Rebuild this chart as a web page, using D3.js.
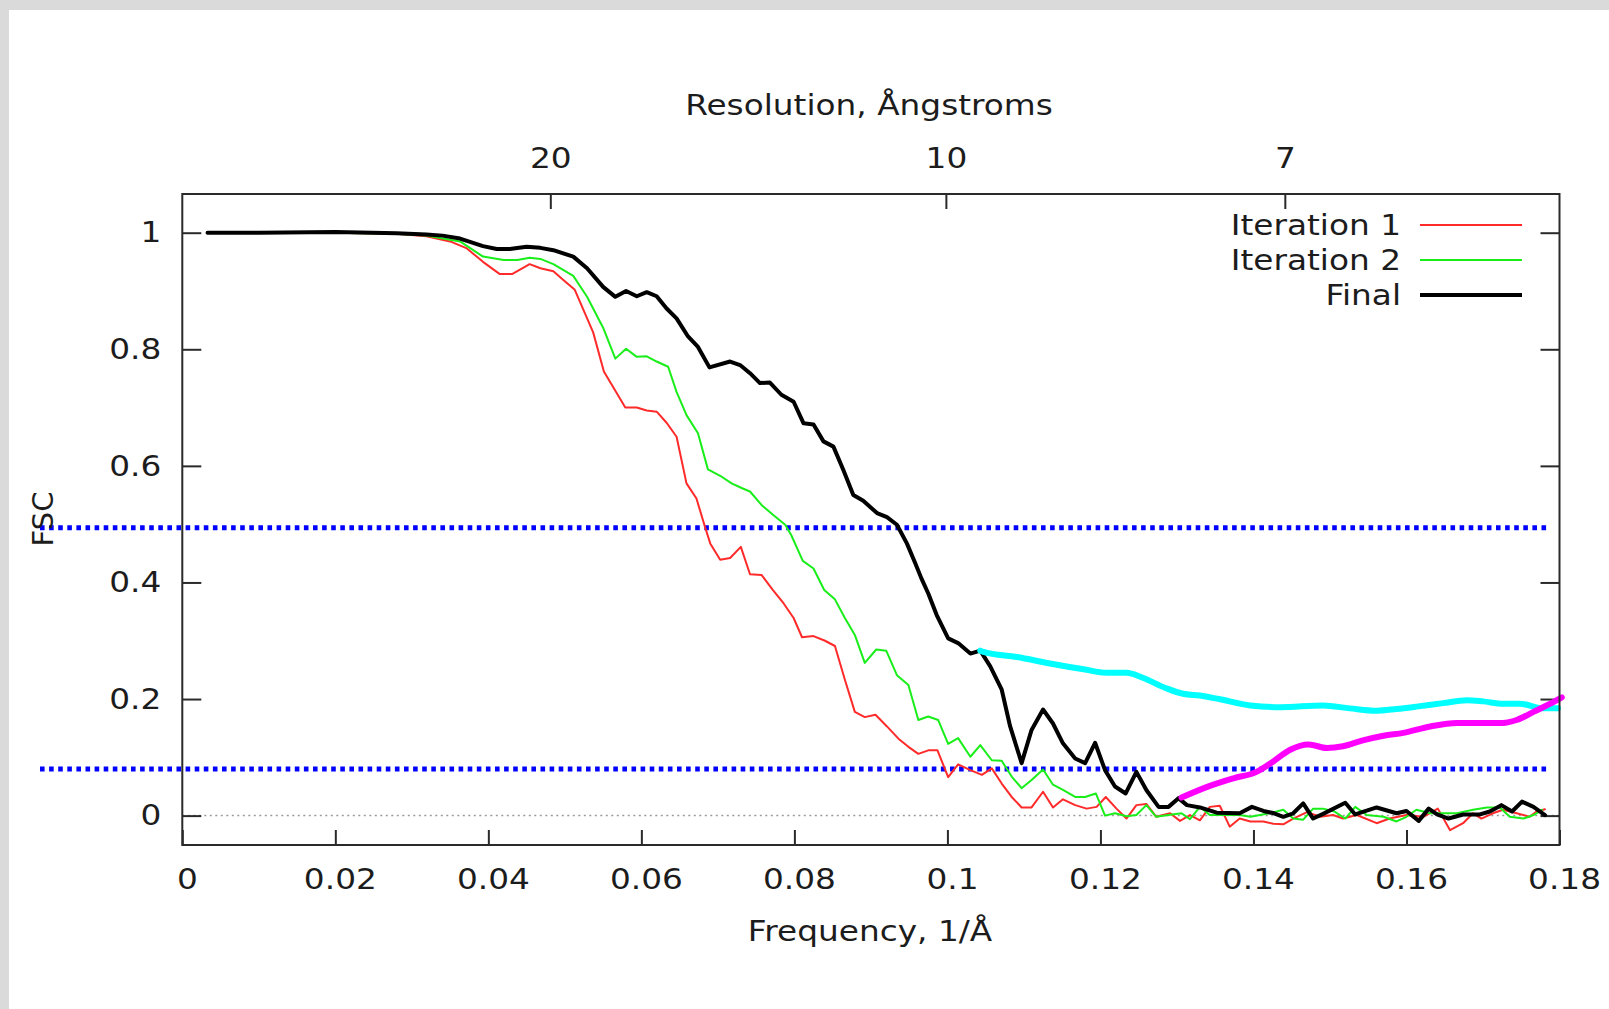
<!DOCTYPE html>
<html>
<head>
<meta charset="utf-8">
<script src="https://cdn.jsdelivr.net/npm/d3@7"></script>
<style>
  html, body { margin: 0; padding: 0; background: #dadada; }
  svg { display: block; }
  text { font-family: "DejaVu Sans", sans-serif; fill: #1c1c1c; }
</style>
</head>
<body>
<svg id="chart" width="1609" height="1009"></svg>
<script>
// Fourier shell correlation curves, frequency in 1/Å

const iter1Freq = [0.0033,0.0100,0.0200,0.0280,0.0319,0.0350,0.0372,0.0393,0.0415,0.0431,0.0454,0.0468,0.0485,0.0498,0.0513,0.0537,0.0551,0.0579,0.0594,0.0607,0.0620,0.0633,0.0646,0.0659,0.0672,0.0683,0.0690,0.0703,0.0716,0.0730,0.0742,0.0757,0.0772,0.0786,0.0799,0.0810,0.0825,0.0840,0.0853,0.0866,0.0879,0.0892,0.0906,0.0921,0.0936,0.0949,0.0962,0.0975,0.0987,0.1001,0.1014,0.1030,0.1045,0.1058,0.1071,0.1084,0.1097,0.1110,0.1125,0.1138,0.1151,0.1167,0.1182,0.1195,0.1207,0.1221,0.1234,0.1247,0.1260,0.1273,0.1291,0.1304,0.1317,0.1330,0.1343,0.1356,0.1369,0.1382,0.1396,0.1413,0.1426,0.1439,0.1452,0.1470,0.1487,0.1504,0.1517,0.1535,0.1561,0.1578,0.1600,0.1622,0.1641,0.1657,0.1674,0.1687,0.1698,0.1713,0.1726,0.1744,0.1761,0.1770,0.1781];
const iter1Fsc  = [1.000,1.000,1.000,0.998,0.994,0.985,0.973,0.950,0.929,0.929,0.946,0.939,0.934,0.919,0.902,0.829,0.762,0.700,0.700,0.695,0.693,0.674,0.650,0.570,0.544,0.496,0.467,0.439,0.442,0.461,0.414,0.413,0.387,0.364,0.339,0.306,0.308,0.300,0.291,0.233,0.178,0.169,0.173,0.153,0.132,0.118,0.106,0.112,0.112,0.066,0.088,0.078,0.070,0.081,0.055,0.032,0.014,0.014,0.041,0.014,0.028,0.018,0.012,0.015,0.032,0.012,-0.005,0.018,0.020,-0.002,0.004,-0.009,0.001,-0.008,0.015,0.017,-0.019,-0.005,-0.010,-0.010,-0.014,-0.015,-0.005,0.006,-0.002,0.001,-0.005,0.001,-0.013,-0.005,0.001,-0.002,0.012,-0.025,-0.013,0.004,-0.005,0.004,0.010,0.004,-0.002,0.007,0.011];

const iter2Freq = [0.0033,0.0100,0.0200,0.0280,0.0319,0.0363,0.0393,0.0420,0.0438,0.0454,0.0468,0.0485,0.0511,0.0529,0.0550,0.0566,0.0580,0.0594,0.0607,0.0620,0.0635,0.0646,0.0659,0.0674,0.0687,0.0703,0.0718,0.0731,0.0742,0.0757,0.0772,0.0788,0.0796,0.0811,0.0825,0.0839,0.0853,0.0866,0.0879,0.0892,0.0907,0.0920,0.0934,0.0949,0.0962,0.0975,0.0988,0.1001,0.1014,0.1030,0.1043,0.1058,0.1071,0.1084,0.1097,0.1110,0.1125,0.1138,0.1151,0.1167,0.1180,0.1194,0.1206,0.1219,0.1234,0.1247,0.1260,0.1273,0.1289,0.1306,0.1317,0.1330,0.1343,0.1369,0.1382,0.1396,0.1421,0.1439,0.1452,0.1465,0.1478,0.1491,0.1506,0.1520,0.1533,0.1548,0.1570,0.1587,0.1600,0.1613,0.1631,0.1648,0.1666,0.1687,0.1705,0.1722,0.1735,0.1753,0.1766,0.1777];
const iter2Fsc  = [1.000,1.000,1.000,0.998,0.995,0.985,0.959,0.953,0.953,0.957,0.955,0.946,0.926,0.890,0.837,0.784,0.801,0.787,0.788,0.779,0.770,0.727,0.687,0.656,0.594,0.583,0.570,0.562,0.556,0.533,0.516,0.499,0.481,0.437,0.424,0.387,0.371,0.339,0.310,0.262,0.285,0.283,0.241,0.224,0.164,0.170,0.164,0.123,0.133,0.101,0.121,0.095,0.094,0.067,0.047,0.061,0.079,0.053,0.044,0.032,0.032,0.038,0.000,0.004,-0.001,0.001,0.018,-0.002,0.001,0.004,-0.006,0.015,0.001,0.001,0.001,-0.002,0.004,0.010,-0.005,-0.007,0.012,0.012,0.007,-0.005,0.015,0.001,-0.002,-0.010,-0.002,0.010,0.004,0.004,0.004,0.010,0.014,0.014,-0.002,-0.005,0.001,0.010];

const finalFreq = [0.0033,0.0100,0.0200,0.0280,0.0319,0.0340,0.0363,0.0393,0.0411,0.0428,0.0450,0.0468,0.0485,0.0511,0.0529,0.0550,0.0566,0.0580,0.0594,0.0607,0.0620,0.0633,0.0646,0.0661,0.0674,0.0689,0.0716,0.0729,0.0742,0.0755,0.0768,0.0783,0.0799,0.0812,0.0825,0.0838,0.0851,0.0864,0.0877,0.0890,0.0908,0.0921,0.0934,0.0947,0.0958,0.0966,0.0975,0.0986,0.1001,0.1014,0.1030,0.1043,0.1056,0.1071,0.1082,0.1097,0.1110,0.1125,0.1138,0.1151,0.1167,0.1180,0.1193,0.1206,0.1219,0.1233,0.1247,0.1260,0.1276,0.1289,0.1302,0.1313,0.1330,0.1352,0.1382,0.1398,0.1413,0.1427,0.1439,0.1452,0.1465,0.1478,0.1491,0.1520,0.1533,0.1561,0.1587,0.1600,0.1616,0.1629,0.1640,0.1655,0.1674,0.1696,0.1709,0.1724,0.1738,0.1751,0.1766,0.1781];
const finalFsc  = [1.000,1.000,1.001,0.999,0.997,0.995,0.990,0.977,0.972,0.972,0.976,0.974,0.970,0.959,0.939,0.907,0.890,0.900,0.891,0.898,0.891,0.870,0.853,0.822,0.804,0.769,0.779,0.773,0.759,0.742,0.743,0.722,0.710,0.673,0.671,0.642,0.633,0.593,0.550,0.540,0.519,0.512,0.499,0.467,0.433,0.407,0.381,0.344,0.304,0.296,0.278,0.283,0.256,0.216,0.153,0.090,0.147,0.182,0.158,0.124,0.098,0.090,0.125,0.078,0.050,0.038,0.075,0.044,0.015,0.015,0.030,0.018,0.014,0.005,0.004,0.015,0.008,0.004,-0.002,0.004,0.021,-0.005,0.003,0.022,0.002,0.014,0.004,0.008,-0.009,0.012,0.002,-0.005,0.002,0.002,0.007,0.018,0.007,0.024,0.015,0.001];

// smooth reference curves drawn over the high-frequency end
const cyanFreq = [0.1043,0.1047,0.1091,0.1134,0.1178,0.1208,0.1234,0.1256,0.1285,0.1308,0.1330,0.1355,0.1396,0.1435,0.1491,0.1526,0.1561,0.1587,0.1613,0.1648,0.1679,0.1700,0.1726,0.1748,0.1779,0.1798];
const cyanFsc  = [0.283,0.281,0.272,0.261,0.251,0.245,0.245,0.236,0.219,0.209,0.206,0.200,0.189,0.186,0.189,0.184,0.180,0.183,0.187,0.193,0.198,0.196,0.192,0.192,0.184,0.184];

const magentaFreq = [0.1306,0.1343,0.1374,0.1404,0.1426,0.1448,0.1472,0.1496,0.1517,0.1543,0.1570,0.1596,0.1631,0.1666,0.1700,0.1726,0.1744,0.1766,0.1788,0.1803];
const magentaFsc  = [0.031,0.051,0.064,0.075,0.093,0.113,0.122,0.116,0.119,0.129,0.137,0.142,0.153,0.159,0.159,0.159,0.164,0.178,0.192,0.203];

// cut-off levels (blue dotted) and their horizontal extent in 1/Å
const thresholdLevels = [0.494, 0.080];
const thresholdSpan = [-0.0186, 0.1788];

// axis ticks
const freqTicks = [0, 0.02, 0.04, 0.06, 0.08, 0.10, 0.12, 0.14, 0.16, 0.18];
const fscTicks = [0, 0.2, 0.4, 0.6, 0.8, 1];
const resolutionLabels = ["20", "10", "7"];
const resolutionTickFreq = [0.0481, 0.0998, 0.1441];

const legendNames = ["Iteration 1", "Iteration 2", "Final"];

const svg = d3.select("#chart");

// page background and white panel
svg.append("rect").attr("width", 1609).attr("height", 1009).attr("fill", "#dadada");
svg.append("rect").attr("x", 9).attr("y", 10).attr("width", 1600).attr("height", 999).attr("fill", "#ffffff");

const x = d3.scaleLinear().domain([0, 0.18]).range([182.3, 1559.5]);
const y = d3.scaleLinear().domain([-0.0504, 1.0664]).range([845, 194]);

const fmt = v => String(+v.toFixed(2));
const FONT = 29;
const TEXT_STRETCH = 1.13;

// widen glyphs horizontally around each text's own anchor point
function stretchText(sel) {
  sel.each(function () {
    const t = d3.select(this);
    const tx = +t.attr("x") || 0;
    const ty = +t.attr("y") || 0;
    const prev = t.attr("transform") || "";
    t.attr("transform", `${prev} translate(${tx},${ty}) scale(${TEXT_STRETCH},1) translate(${-tx},${-ty})`);
  });
}

// zero line
svg.append("line")
  .attr("x1", x(0)).attr("x2", x(0.18))
  .attr("y1", y(0)).attr("y2", y(0))
  .attr("stroke", "#9a9a9a").attr("stroke-width", 1.5)
  .attr("stroke-dasharray", "2 3.5");

// axes
const axisBottom = d3.axisBottom(x).tickValues(freqTicks).tickFormat(fmt).tickSizeInner(-15).tickSizeOuter(0).tickPadding(23);
const axisLeft = d3.axisLeft(y).tickValues(fscTicks).tickFormat(fmt).tickSizeInner(-19).tickSizeOuter(0).tickPadding(21);
const axisRight = d3.axisRight(y).tickValues(fscTicks).tickFormat("").tickSizeInner(-19).tickSizeOuter(0);
const x2 = d3.scaleLinear().domain(x.domain()).range(x.range());
const axisTop = d3.axisTop(x2).tickValues(resolutionTickFreq)
  .tickFormat((d, i) => resolutionLabels[i]).tickSizeInner(-15).tickSizeOuter(0).tickPadding(26);

function styleAxis(g) {
  g.select(".domain").remove();
  g.selectAll(".tick line").attr("stroke", "#2a2a2a").attr("stroke-width", 2);
  g.selectAll(".tick text").attr("font-size", FONT).attr("font-family", "DejaVu Sans").attr("fill", "#1c1c1c");
}

svg.append("g").attr("transform", `translate(0,${y.range()[0]})`).call(axisBottom).call(styleAxis)
  .selectAll(".tick text").attr("dx", 4).call(stretchText);
svg.append("g").attr("transform", `translate(${x.range()[0]},0)`).call(axisLeft).call(styleAxis)
  .selectAll(".tick text").call(stretchText);
svg.append("g").attr("transform", `translate(${x.range()[1]},0)`).call(axisRight).call(styleAxis);
svg.append("g").attr("transform", `translate(0,${y.range()[1]})`).call(axisTop).call(styleAxis)
  .selectAll(".tick text").attr("dy", "0").call(stretchText);

// thresholds
svg.selectAll(".threshold").data(thresholdLevels).enter().append("line")
  .attr("class", "threshold")
  .attr("x1", x(thresholdSpan[0])).attr("x2", x(thresholdSpan[1]))
  .attr("y1", d => y(d)).attr("y2", d => y(d))
  .attr("stroke", "#0000ff").attr("stroke-width", 5)
  .attr("stroke-dasharray", "4.6 4.5");

// series
const zip = (fs, vs) => fs.map((f, i) => [f, vs[i]]);
const lineLinear = d3.line().x(d => x(d[0])).y(d => y(d[1]));
const lineSmooth = d3.line().x(d => x(d[0])).y(d => y(d[1])).curve(d3.curveMonotoneX);

const series = [
  { data: zip(iter1Freq, iter1Fsc), color: "#ff2a2a", width: 2, gen: lineLinear },
  { data: zip(iter2Freq, iter2Fsc), color: "#1aee1a", width: 2, gen: lineLinear },
  { data: zip(finalFreq, finalFsc), color: "#000000", width: 4, gen: lineLinear },
  { data: zip(cyanFreq, cyanFsc), color: "#00ffff", width: 6, gen: lineSmooth },
  { data: zip(magentaFreq, magentaFsc), color: "#ff00ff", width: 6, gen: lineSmooth }
];

svg.selectAll(".series").data(series).enter().append("path")
  .attr("class", "series")
  .attr("d", d => d.gen(d.data))
  .attr("fill", "none")
  .attr("stroke", d => d.color)
  .attr("stroke-width", d => d.width)
  .attr("stroke-linejoin", "round")
  .attr("stroke-linecap", "round");

// frame
svg.append("rect")
  .attr("x", x.range()[0]).attr("y", y.range()[1])
  .attr("width", x.range()[1] - x.range()[0])
  .attr("height", y.range()[0] - y.range()[1])
  .attr("fill", "none").attr("stroke", "#2a2a2a").attr("stroke-width", 2);

// legend
const legend = svg.append("g").attr("transform", "translate(1401,225)");
const legendRows = legend.selectAll("g").data(series.slice(0, 3)).enter().append("g")
  .attr("transform", (d, i) => `translate(0,${i * 35})`);
legendRows.append("text")
  .attr("text-anchor", "end").attr("x", 0).attr("y", 9.5)
  .attr("font-size", FONT)
  .text((d, i) => legendNames[i])
  .call(stretchText);
legendRows.append("line")
  .attr("x1", 19).attr("x2", 121).attr("y1", 0).attr("y2", 0)
  .attr("stroke", d => d.color).attr("stroke-width", d => d.width);

// axis titles
svg.append("text").attr("x", 870).attr("y", 941).attr("text-anchor", "middle")
  .attr("font-size", FONT).text("Frequency, 1/Å").call(stretchText);
svg.append("text").attr("x", 869).attr("y", 115).attr("text-anchor", "middle")
  .attr("font-size", FONT).text("Resolution, Ångstroms").call(stretchText);
svg.append("text").attr("transform", "translate(53,519) rotate(-90)").attr("text-anchor", "middle")
  .attr("font-size", FONT).text("FSC");
</script>
</body>
</html>
